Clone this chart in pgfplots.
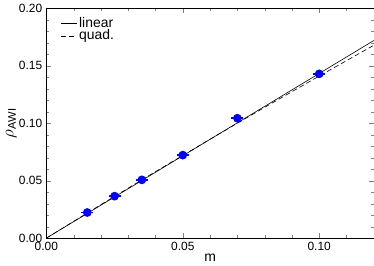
\documentclass[border=0pt]{standalone}
\usepackage{pgfplots}
\pgfplotsset{compat=1.18}
\usepackage{fontspec}
\setmainfont{Liberation Sans}
\begin{document}
\fontsize{12}{14}\selectfont
\begin{tikzpicture}
\begin{axis}[
  scale only axis,
  width=329pt, height=231pt,
  xmin=0, xmax=0.12, ymin=0, ymax=0.20,
  xtick={0,0.05,0.10}, ytick={0,0.05,0.10,0.15,0.20},
  minor xtick={0.01,0.02,0.03,0.04,0.06,0.07,0.08,0.09,0.11},
  minor ytick={0.01,0.02,0.03,0.04,0.06,0.07,0.08,0.09,0.11,0.12,0.13,0.14,0.16,0.17,0.18,0.19},
  tick align=inside,
  major tick length=5pt, minor tick length=3pt,
  xticklabel style={/pgf/number format/.cd,fixed,fixed zerofill,precision=2},
  yticklabel style={/pgf/number format/.cd,fixed,fixed zerofill,precision=2},
  /pgf/number format/assume math mode=true,
  scaled ticks=false,
  xlabel={m}, ylabel={$\rho_{\mathrm{AWI}}$},
  xlabel style={yshift=5pt, font=\fontsize{14}{16}\selectfont},
  ylabel style={yshift=-6pt, font=\fontsize{16}{18}\selectfont},
  legend style={draw=none, fill=none, at={(0.035,0.98)}, anchor=north west, font=\fontsize{14}{15}\selectfont, row sep=-3pt},
  legend cell align=left,
  legend image code/.code={\draw[#1] (0cm,0cm) -- (0.55cm,0cm);},
]
\addplot[black, line width=0.6pt] coordinates {(0,0) (0.12,0.1719)};
\addlegendentry{linear}
\addplot[black, line width=0.6pt, dash pattern=on 5pt off 3pt] coordinates {(0,0) (0.02,0.02916) (0.04,0.05784) (0.06,0.08604) (0.08,0.11376) (0.10,0.141) (0.12,0.16776)};
\addlegendentry{quad.}
\addplot[only marks, mark=*, mark size=3.6pt, color=blue, line width=1.5pt,
  error bars/.cd, x dir=both, x explicit, error mark=none, error bar style={blue, line width=1.5pt}]
  coordinates {
  (0.015,0.0223) +- (0.0022,0)
  (0.025,0.0365) +- (0.0022,0)
  (0.035,0.0507) +- (0.0022,0)
  (0.05,0.0722) +- (0.0022,0)
  (0.07,0.1043) +- (0.0022,0)
  (0.10,0.1429) +- (0.0022,0)
  };
\end{axis}
\path (current bounding box.west) ++(-2pt,0) coordinate (padl);
\path (padl) -- (current bounding box.east);
\end{tikzpicture}
\end{document}
